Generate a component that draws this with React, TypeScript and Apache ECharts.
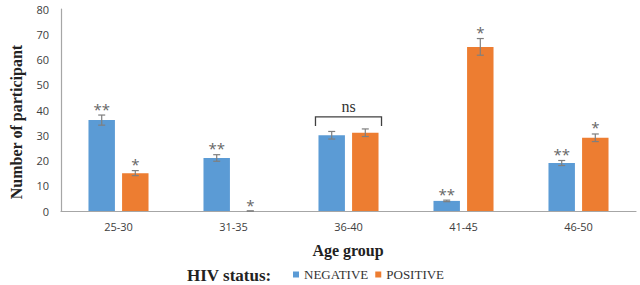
import React, { useEffect, useRef } from "react";
import * as echarts from "echarts";

const categories = ["25-30", "31-35", "36-40", "41-45", "46-50"];
const negative = [36, 21, 30, 4, 19];
const positive = [15, 0, 31, 65, 29];
const negativeErr = [2, 1.3, 1.5, 0.3, 1];
const positiveErr = [1, 0, 1.5, 3.3, 1.5];
const negativeSig = ["**", "**", "", "**", "**"];
const positiveSig = ["*", "*", "", "*", "*"];
const nsGroupIndex = 2;
const nsLabel = "ns";
const yTicks = [0, 10, 20, 30, 40, 50, 60, 70, 80];

const BLUE = "#5B9BD5";
const ORANGE = "#ED7D31";
const BAR_W = 0.23;
const BAR_GAP = 0.27;
const SANS = "'Open Sans', 'Liberation Sans', sans-serif";
const SERIF = "'Liberation Serif', 'DejaVu Serif', serif";

function errSeries(name: string, values: number[], errs: number[], sigs: string[], side: number) {
  return {
    type: "custom",
    name: name + "-err",
    silent: true,
    z: 10,
    data: values.map((v, i) => [i, v, errs[i]]),
    renderItem: (params: any, api: any) => {
      const i = api.value(0);
      const v = api.value(1);
      const e = api.value(2);
      const sig = sigs[params.dataIndex];
      const band = api.size([1, 0])[0];
      const w = band * BAR_W;
      const g = w * BAR_GAP;
      const cx = api.coord([i, v])[0] + (side * (w + g)) / 2;
      const yTop = api.coord([i, v + e])[1];
      const yBot = api.coord([i, Math.max(v - e, 0)])[1];
      const cap = 3.5;
      const ls = { stroke: "#7f7f7f", lineWidth: 1.2 };
      const children: any[] = [
        { type: "line", shape: { x1: cx, y1: yTop, x2: cx, y2: yBot }, style: ls },
        { type: "line", shape: { x1: cx - cap, y1: yTop, x2: cx + cap, y2: yTop }, style: ls },
        { type: "line", shape: { x1: cx - cap, y1: yBot, x2: cx + cap, y2: yBot }, style: ls },
      ];
      if (sig) {
        children.push({
          type: "text",
          style: {
            x: cx,
            y: yTop + 1,
            text: sig,
            fill: "#666666",
            font: "15px " + SANS,
            align: "center",
            verticalAlign: "bottom",
          },
        });
      }
      return { type: "group", children };
    },
  };
}

const bracketSeries = {
  type: "custom",
  silent: true,
  z: 10,
  data: [[nsGroupIndex, Math.max(negative[nsGroupIndex] + negativeErr[nsGroupIndex], positive[nsGroupIndex] + positiveErr[nsGroupIndex])]],
  renderItem: (params: any, api: any) => {
    const i = api.value(0);
    const top = api.value(1);
    const band = api.size([1, 0])[0];
    const w = band * BAR_W;
    const g = w * BAR_GAP;
    const half = (2 * w + g) / 2 + 3;
    const [cx, yt] = api.coord([i, top]);
    const yEnd = yt - 3;
    const yLine = yt - 12;
    const ls = { stroke: "#404040", lineWidth: 1.3, fill: "none" };
    return {
      type: "group",
      children: [
        {
          type: "polyline",
          shape: { points: [[cx - half, yEnd], [cx - half, yLine], [cx + half, yLine], [cx + half, yEnd]] },
          style: ls,
        },
        {
          type: "text",
          style: {
            x: cx,
            y: yLine - 10,
            text: nsLabel,
            fill: "#333",
            font: "16px " + SERIF,
            align: "center",
            verticalAlign: "middle",
          },
        },
      ],
    };
  },
};

export default function App() {
  const ref = useRef<HTMLDivElement>(null);
  useEffect(() => {
    if (!ref.current) return;
    const chart = echarts.init(ref.current, null, { renderer: "svg" });
    chart.setOption({
      animation: false,
      backgroundColor: "#ffffff",
      grid: { left: 61, right: 4, top: 9, bottom: 74 },
      legend: {
        data: ["NEGATIVE", "POSITIVE"],
        left: 288,
        top: 263,
        icon: "rect",
        itemWidth: 6,
        itemHeight: 6,
        itemGap: 7,
        textStyle: { fontFamily: SERIF, fontSize: 13, color: "#333" },
      },
      graphic: [
        {
          type: "text",
          x: 16,
          y: 122,
          rotation: Math.PI / 2,
          style: {
            text: "Number of participant",
            font: "bold 16px " + SERIF,
            fill: "#222",
            align: "center",
            verticalAlign: "middle",
          },
        },
        {
          type: "text",
          x: 348,
          y: 250,
          style: {
            text: "Age group",
            font: "bold 16px " + SERIF,
            fill: "#222",
            align: "center",
            verticalAlign: "middle",
          },
        },
        {
          type: "text",
          x: 187,
          y: 275,
          style: {
            text: "HIV status:",
            font: "bold 17px " + SERIF,
            fill: "#222",
            align: "left",
            verticalAlign: "middle",
          },
        },
      ],
      xAxis: {
        type: "category",
        data: categories,
        axisLine: { lineStyle: { color: "#a6a6a6", width: 1.2 } },
        axisTick: { show: false },
        axisLabel: { fontFamily: SANS, fontSize: 11, color: "#404040", margin: 10 },
        splitLine: { show: false },
      },
      yAxis: {
        type: "value",
        min: yTicks[0],
        max: yTicks[yTicks.length - 1],
        interval: 10,
        axisLine: { show: true, lineStyle: { color: "#a6a6a6", width: 1.2 } },
        axisTick: { show: false },
        axisLabel: { fontFamily: SANS, fontSize: 11, color: "#404040", margin: 12 },
        splitLine: { show: false },
      },
      series: [
        {
          type: "bar",
          name: "NEGATIVE",
          data: negative,
          barWidth: BAR_W * 100 + "%",
          barGap: BAR_GAP * 100 + "%",
          itemStyle: { color: BLUE },
        },
        {
          type: "bar",
          name: "POSITIVE",
          data: positive,
          barWidth: BAR_W * 100 + "%",
          barGap: BAR_GAP * 100 + "%",
          itemStyle: { color: ORANGE },
        },
        errSeries("NEGATIVE", negative, negativeErr, negativeSig, -1),
        errSeries("POSITIVE", positive, positiveErr, positiveSig, 1),
        bracketSeries,
      ],
    });
    return () => chart.dispose();
  }, []);
  return <div ref={ref} style={{ position: "fixed", left: 0, top: 0, width: 640, height: 285 }} />;
}
